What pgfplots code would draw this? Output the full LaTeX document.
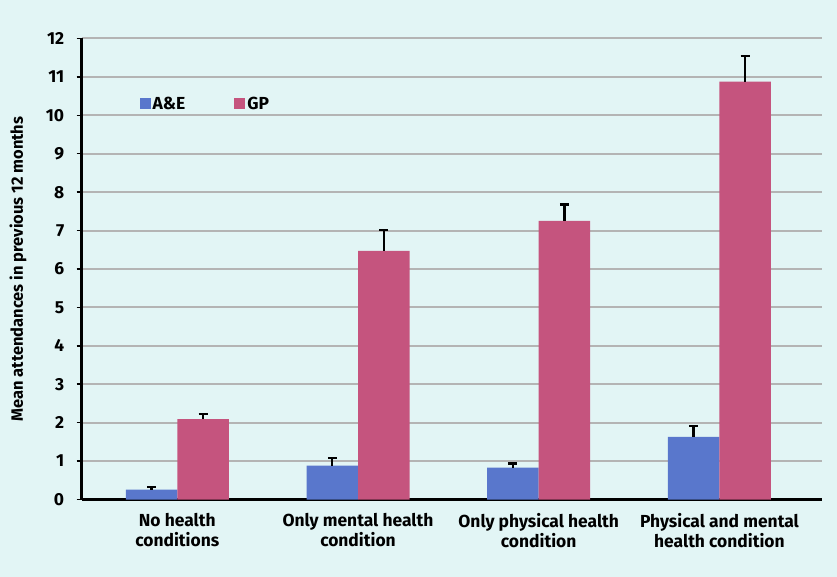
\documentclass[border=0pt]{standalone}
\usepackage{pgfplots}
\pgfplotsset{compat=1.18}
\usepackage{fontspec}
\setmainfont{Fira Sans}
\definecolor{bgc}{RGB}{226,245,245}
\definecolor{aecol}{RGB}{89,119,204}
\definecolor{gpcol}{RGB}{197,84,126}
\definecolor{gridc}{RGB}{180,180,180}
\begin{document}
\begin{tikzpicture}
\path[use as bounding box, fill=bgc] (-81.7bp,-77.5bp) rectangle (755.3bp,499.5bp);
\begin{axis}[
  scale only axis,
  width=740bp, height=461bp,
  xmin=-0.529, xmax=3.566,
  ymin=0, ymax=12,
  ytick={0,1,...,12},
  xtick={0,1,2,3},
  xticklabels={No health\\conditions, Only mental health\\condition, Only physical health\\condition, Physical and mental\\health condition},
  xticklabel style={align=center, font=\fontsize{17.5}{20.5}\selectfont\bfseries, yshift=-5bp},
  yticklabel style={font=\fontsize{17.5}{19}\selectfont\bfseries, xshift=-9bp},
  /pgf/number format/assume math mode=true,
  major x tick style={draw=none},
  extra x ticks={-0.529,0.5,1.5,2.5},
  extra x tick labels={},
  extra x tick style={major tick length=5bp, tick align=outside, major tick style={black, line width=1.5bp}, grid=none},
  ymajorgrids,
  grid style={gridc, line width=2bp},
  axis x line*=bottom, axis y line*=left,
  axis line style={-, black, line width=2.5bp},
  tick align=outside,
  major tick length=5bp,
  major tick style={black, line width=1.5bp},
  ylabel={Mean attendances in previous 12 months},
  ylabel style={font=\fontsize{16.5}{18}\selectfont\bfseries, at={(axis description cs:-0.086,0.5)}, anchor=center, rotate=0},
  ybar=0pt, bar width=51.5bp,
  legend columns=2,
  legend style={draw=none, fill=none, at={(0.074,0.858)}, anchor=west, font=\fontsize{17.5}{20}\selectfont\bfseries,
    /tikz/every even column/.append style={column sep=47bp}},
  legend image code/.code={\fill[#1] (0bp,-5.5bp) rectangle (11bp,5.5bp);},
  error bars/y dir=plus, error bars/y explicit,
  error bars/error bar style={black, line width=2.4bp},
  error bars/error mark options={black, line width=2.4bp, mark size=4.5bp, rotate=90},
  clip=false,
]
\addplot[fill=aecol, draw=none] coordinates {
 (0,0.255) +- (0,0.075)
 (1,0.88) +- (0,0.20)
 (2,0.83) +- (0,0.11)
 (3,1.63) +- (0,0.29)
};
\addplot[fill=gpcol, draw=none] coordinates {
 (0,2.09) +- (0,0.13)
 (1,6.47) +- (0,0.54)
 (2,7.25) +- (0,0.43)
 (3,10.88) +- (0,0.66)
};
\legend{A\&E, GP}
\end{axis}
\end{tikzpicture}
\end{document}
